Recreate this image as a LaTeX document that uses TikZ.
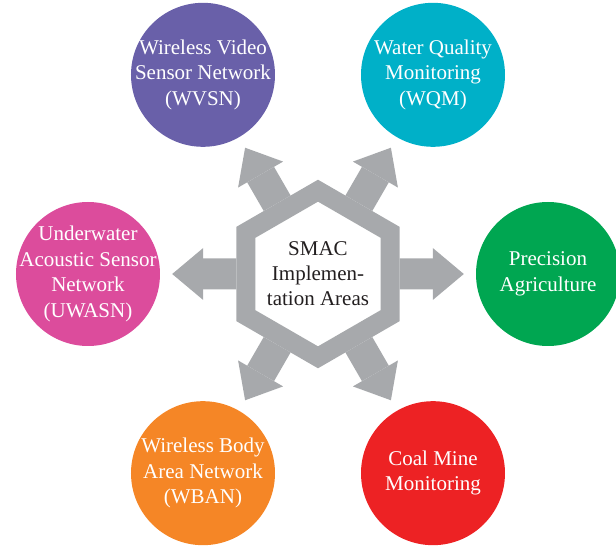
\documentclass[tikz,border=0pt]{standalone}
\usepackage{fontspec}
\setmainfont{Liberation Serif}
\usetikzlibrary{shapes.geometric}
\usetikzlibrary{arrows.meta}
\usepackage{xcolor}

\definecolor{hubgray}{HTML}{A7A9AC}
\definecolor{textdark}{HTML}{231F20}
\definecolor{wvsncol}{HTML}{6960A9}
\definecolor{wqmcol}{HTML}{00B0C8}
\definecolor{pacol}{HTML}{00A651}
\definecolor{cmmcol}{HTML}{ED2224}
\definecolor{wbancol}{HTML}{F58626}
\definecolor{uwasncol}{HTML}{DC4C9C}

\begin{document}
\begin{tikzpicture}[x=1pt, y=1pt]
        % ================= 样式定义 =================
        \tikzset{
            % 中心六边形:灰色粗边框, 白底
            hub/.style={regular polygon, regular polygon sides=6, shape border rotate=30, draw=hubgray, line width=19pt, fill=white, minimum size=160pt, inner sep=0pt, align=center, text=textdark, font=\fontsize{21}{25}\selectfont},
            % 外围应用领域:彩色实心圆, 白字 (负 inner sep 保证圆大小固定)
            area/.style={circle, minimum size=144pt, inner sep=-16pt, align=center, text=white, font=\fontsize{21}{25.5}\selectfont},
            % 灰色粗箭头 (从六边形指向各圆)
            spoke/.style={hubgray, line width=31pt, -{Triangle[width=52pt, length=31pt, line width=0pt]}, shorten >=12pt}
        }

        \useasboundingbox (-318,-272) rectangle (298,274);

        % ================= 中心:六边形 =================
        \node[hub] (hub) at (0,0) {SMAC\\Implemen-\\tation Areas};

        % ================= 六个圆,每 60 度一个 =================
        \node[area, fill=wvsncol]  (wvsn)  at (120:230) {Wireless Video\\Sensor Network\\(WVSN)};
        \node[area, fill=wqmcol]   (wqm)   at (60:230)  {Water Quality\\Monitoring\\(WQM)};
        \node[area, fill=pacol]    (pa)    at (0:230)   {Precision\\Agriculture};
        \node[area, fill=cmmcol]   (cmm)   at (-60:230) {Coal Mine\\Monitoring};
        \node[area, fill=wbancol]  (wban)  at (-120:230) {Wireless Body\\Area Network\\(WBAN)};
        \node[area, fill=uwasncol] (uwasn) at (180:230) {Underwater\\Acoustic Sensor\\Network\\(UWASN)};

        % 箭头
        \foreach \t in {wvsn, wqm, pa, cmm, wban, uwasn} {
            \draw[spoke] (hub) -- (\t);
        }

    \end{tikzpicture}
\end{document}
